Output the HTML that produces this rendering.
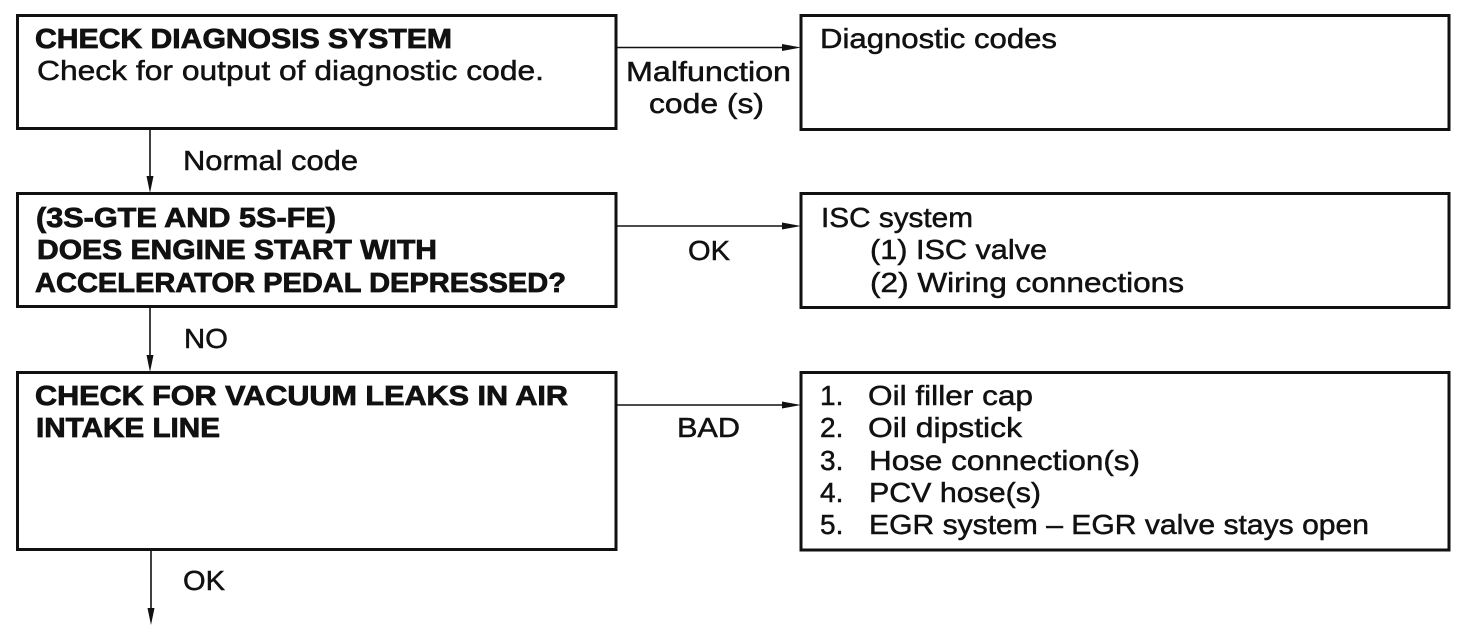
<!DOCTYPE html>
<html><head><meta charset="utf-8">
<style>
html,body{margin:0;padding:0;background:#fff;width:1472px;height:636px;overflow:hidden}
svg{display:block}
text{font-family:"Liberation Sans",Arial,sans-serif;font-size:28px;fill:#111;stroke:#111;stroke-width:.5px}
.b{font-weight:bold;stroke-width:.8px}
</style></head><body>
<svg width="1472" height="636" viewBox="0 0 1472 636" xmlns="http://www.w3.org/2000/svg">
<rect width="1472" height="636" fill="#fff" style="stroke:none"/>
<g fill="none" stroke="#111" stroke-width="3">
<rect x="17.500" y="15.500" width="598.500" height="113"/>
<rect x="17.500" y="193.500" width="598.500" height="113"/>
<rect x="17.500" y="372.500" width="598.500" height="177"/>
<rect x="801" y="15.500" width="648" height="114"/>
<rect x="801" y="193.500" width="648" height="114"/>
<rect x="801" y="372.500" width="648" height="177.500"/>
</g>
<g stroke="#111" stroke-width="1.6" fill="none">
<path d="M616 47.500H785M616 226H785M616 405H785"/>
<path d="M150 128V180M150 307V360M151 549V610"/>
</g>
<g fill="#111">
<path d="M782 44L801 47.500L782 51Z"/>
<path d="M782 222.500L801 226L782 229.500Z"/>
<path d="M782 401.500L801 405L782 408.500Z"/>
<path d="M146.500 176L150 193L153.500 176Z"/>
<path d="M146.500 355L150 372L153.500 355Z"/>
<path d="M147.500 608L151 625L154.500 608Z"/>
</g>
<text class="b" x="35" y="48" textLength="417" lengthAdjust="spacingAndGlyphs">CHECK DIAGNOSIS SYSTEM</text>
<text x="37" y="80" textLength="507" lengthAdjust="spacingAndGlyphs">Check for output of diagnostic code.</text>
<text x="626" y="81" textLength="165" lengthAdjust="spacingAndGlyphs">Malfunction</text>
<text x="649" y="113" textLength="115" lengthAdjust="spacingAndGlyphs">code (s)</text>
<text x="183" y="170" textLength="175" lengthAdjust="spacingAndGlyphs">Normal code</text>
<text class="b" x="36" y="227" textLength="300" lengthAdjust="spacingAndGlyphs">(3S-GTE AND 5S-FE)</text>
<text class="b" x="37" y="259" textLength="400" lengthAdjust="spacingAndGlyphs">DOES ENGINE START WITH</text>
<text class="b" x="35" y="292" textLength="531" lengthAdjust="spacingAndGlyphs">ACCELERATOR PEDAL DEPRESSED?</text>
<text x="688" y="260" textLength="42" lengthAdjust="spacingAndGlyphs">OK</text>
<text x="184" y="348" textLength="44" lengthAdjust="spacingAndGlyphs">NO</text>
<text class="b" x="35" y="405" textLength="533" lengthAdjust="spacingAndGlyphs">CHECK FOR VACUUM LEAKS IN AIR</text>
<text class="b" x="36" y="437" textLength="184" lengthAdjust="spacingAndGlyphs">INTAKE LINE</text>
<text x="677" y="437" textLength="63" lengthAdjust="spacingAndGlyphs">BAD</text>
<text x="183" y="590" textLength="42" lengthAdjust="spacingAndGlyphs">OK</text>
<text x="820" y="48" textLength="237" lengthAdjust="spacingAndGlyphs">Diagnostic codes</text>
<text x="821" y="227" textLength="152" lengthAdjust="spacingAndGlyphs">ISC system</text>
<text x="870" y="259" textLength="177" lengthAdjust="spacingAndGlyphs">(1) ISC valve</text>
<text x="870" y="292" textLength="314" lengthAdjust="spacingAndGlyphs">(2) Wiring connections</text>
<text x="820" y="405">1.</text>
<text x="868" y="405" textLength="165" lengthAdjust="spacingAndGlyphs">Oil filler cap</text>
<text x="820" y="437">2.</text>
<text x="868" y="437" textLength="154" lengthAdjust="spacingAndGlyphs">Oil dipstick</text>
<text x="820" y="470">3.</text>
<text x="869" y="470" textLength="271" lengthAdjust="spacingAndGlyphs">Hose connection(s)</text>
<text x="820" y="502">4.</text>
<text x="869" y="502" textLength="172" lengthAdjust="spacingAndGlyphs">PCV hose(s)</text>
<text x="820" y="534">5.</text>
<text x="869" y="534" textLength="500" lengthAdjust="spacingAndGlyphs">EGR system – EGR valve stays open</text>
</svg>
</body></html>
